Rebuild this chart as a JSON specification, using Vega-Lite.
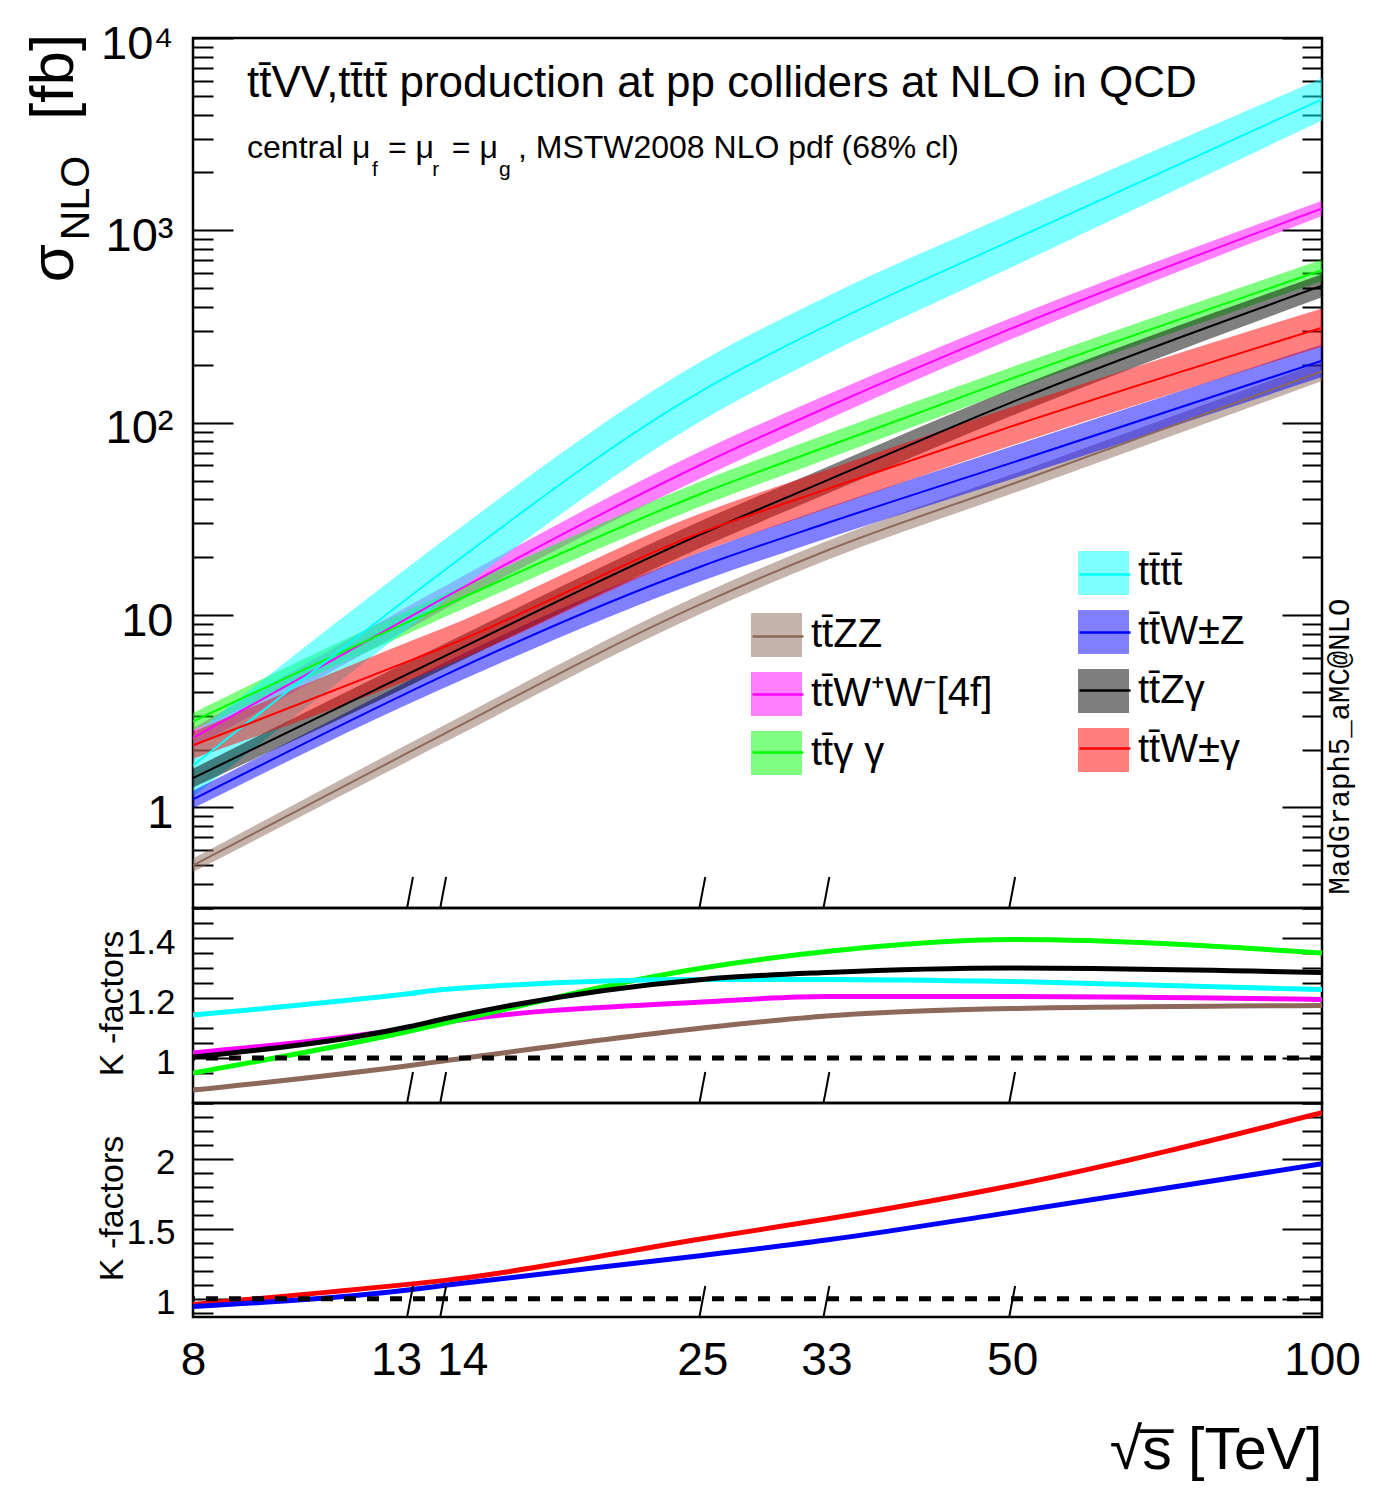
{
  "$schema": "https://vega.github.io/schema/vega-lite/v6.json",
  "background": "white",
  "autosize": {"type": "none"},
  "padding": {"left": 193, "top": 38, "right": 1188, "bottom": 1469},
  "spacing": 0,
  "bounds": "flush",
  "config": {
    "view": {"stroke": "black", "strokeWidth": 2.5},
    "axis": {"labelColor": "black", "tickColor": "black", "titleColor": "black", "grid": false, "domain": false}
  },
  "resolve": {"scale": {"fill": "independent", "stroke": "independent", "color": "independent"}},
  "datasets": {
    "xs": [
      {"p": "tt\u0304ZZ", "s": 8, "c": 0.5, "lo": 0.461, "hi": 0.542},
      {"p": "tt\u0304ZZ", "s": 13, "c": 1.95, "lo": 1.76, "hi": 2.16},
      {"p": "tt\u0304ZZ", "s": 14, "c": 2.4, "lo": 2.16, "hi": 2.66},
      {"p": "tt\u0304ZZ", "s": 25, "c": 11.5, "lo": 10.25, "hi": 12.9},
      {"p": "tt\u0304ZZ", "s": 33, "c": 21.6, "lo": 19.3, "hi": 24.2},
      {"p": "tt\u0304ZZ", "s": 50, "c": 48, "lo": 42.8, "hi": 53.9},
      {"p": "tt\u0304ZZ", "s": 100, "c": 185, "lo": 165, "hi": 207.6},
      {"p": "tt\u0304W\u207aW\u207b[4f]", "s": 8, "c": 2.3, "lo": 2.05, "hi": 2.58},
      {"p": "tt\u0304W\u207aW\u207b[4f]", "s": 13, "c": 9.8, "lo": 8.54, "hi": 11.25},
      {"p": "tt\u0304W\u207aW\u207b[4f]", "s": 14, "c": 12.2, "lo": 10.63, "hi": 14.0},
      {"p": "tt\u0304W\u207aW\u207b[4f]", "s": 25, "c": 61, "lo": 51.9, "hi": 71.7},
      {"p": "tt\u0304W\u207aW\u207b[4f]", "s": 33, "c": 120, "lo": 103.4, "hi": 139.3},
      {"p": "tt\u0304W\u207aW\u207b[4f]", "s": 50, "c": 310, "lo": 273, "hi": 352},
      {"p": "tt\u0304W\u207aW\u207b[4f]", "s": 100, "c": 1300, "lo": 1186, "hi": 1425},
      {"p": "tt\u0304\u03b3 \u03b3", "s": 8, "c": 2.8, "lo": 2.52, "hi": 3.1},
      {"p": "tt\u0304\u03b3 \u03b3", "s": 13, "c": 9.3, "lo": 8.1, "hi": 10.7},
      {"p": "tt\u0304\u03b3 \u03b3", "s": 14, "c": 11.1, "lo": 9.67, "hi": 12.74},
      {"p": "tt\u0304\u03b3 \u03b3", "s": 25, "c": 43, "lo": 37, "hi": 49.9},
      {"p": "tt\u0304\u03b3 \u03b3", "s": 33, "c": 75, "lo": 64.6, "hi": 87.1},
      {"p": "tt\u0304\u03b3 \u03b3", "s": 50, "c": 170, "lo": 148, "hi": 195},
      {"p": "tt\u0304\u03b3 \u03b3", "s": 100, "c": 620, "lo": 546, "hi": 704},
      {"p": "tt\u0304tt\u0304", "s": 8, "c": 1.65, "lo": 1.14, "hi": 2.38},
      {"p": "tt\u0304tt\u0304", "s": 13, "c": 12.5, "lo": 8.65, "hi": 18.06},
      {"p": "tt\u0304tt\u0304", "s": 14, "c": 16.9, "lo": 11.7, "hi": 24.4},
      {"p": "tt\u0304tt\u0304", "s": 25, "c": 147, "lo": 103, "hi": 210},
      {"p": "tt\u0304tt\u0304", "s": 33, "c": 320, "lo": 226.5, "hi": 452},
      {"p": "tt\u0304tt\u0304", "s": 50, "c": 890, "lo": 645, "hi": 1228},
      {"p": "tt\u0304tt\u0304", "s": 100, "c": 4800, "lo": 3727, "hi": 6182},
      {"p": "tt\u0304W\u00b1Z", "s": 8, "c": 1.1, "lo": 0.99, "hi": 1.22},
      {"p": "tt\u0304W\u00b1Z", "s": 13, "c": 4.0, "lo": 3.48, "hi": 4.59},
      {"p": "tt\u0304W\u00b1Z", "s": 14, "c": 4.83, "lo": 4.16, "hi": 5.61},
      {"p": "tt\u0304W\u00b1Z", "s": 25, "c": 18, "lo": 15.1, "hi": 21.4},
      {"p": "tt\u0304W\u00b1Z", "s": 33, "c": 30, "lo": 25, "hi": 36.1},
      {"p": "tt\u0304W\u00b1Z", "s": 50, "c": 62, "lo": 51, "hi": 75.4},
      {"p": "tt\u0304W\u00b1Z", "s": 100, "c": 210, "lo": 172.7, "hi": 255},
      {"p": "tt\u0304Z\u03b3", "s": 8, "c": 1.42, "lo": 1.27, "hi": 1.59},
      {"p": "tt\u0304Z\u03b3", "s": 13, "c": 5.0, "lo": 4.31, "hi": 5.8},
      {"p": "tt\u0304Z\u03b3", "s": 14, "c": 6.06, "lo": 5.22, "hi": 7.04},
      {"p": "tt\u0304Z\u03b3", "s": 25, "c": 26.5, "lo": 22.6, "hi": 31.1},
      {"p": "tt\u0304Z\u03b3", "s": 33, "c": 50, "lo": 42.6, "hi": 58.75},
      {"p": "tt\u0304Z\u03b3", "s": 50, "c": 128, "lo": 109, "hi": 150},
      {"p": "tt\u0304Z\u03b3", "s": 100, "c": 515, "lo": 449, "hi": 591},
      {"p": "tt\u0304W\u00b1\u03b3", "s": 8, "c": 2.1, "lo": 1.79, "hi": 2.47},
      {"p": "tt\u0304W\u00b1\u03b3", "s": 13, "c": 5.8, "lo": 4.61, "hi": 7.3},
      {"p": "tt\u0304W\u00b1\u03b3", "s": 14, "c": 6.78, "lo": 5.39, "hi": 8.54},
      {"p": "tt\u0304W\u00b1\u03b3", "s": 25, "c": 27, "lo": 21.4, "hi": 34},
      {"p": "tt\u0304W\u00b1\u03b3", "s": 33, "c": 45, "lo": 35.7, "hi": 56.7},
      {"p": "tt\u0304W\u00b1\u03b3", "s": 50, "c": 96, "lo": 76.3, "hi": 121},
      {"p": "tt\u0304W\u00b1\u03b3", "s": 100, "c": 312, "lo": 248, "hi": 393}
    ],
    "km": [
      {"p": "tt\u0304ZZ", "s": 8, "k": 0.893}, {"p": "tt\u0304ZZ", "s": 13, "k": 0.975}, {"p": "tt\u0304ZZ", "s": 14, "k": 0.99}, {"p": "tt\u0304ZZ", "s": 25, "k": 1.10}, {"p": "tt\u0304ZZ", "s": 33, "k": 1.14}, {"p": "tt\u0304ZZ", "s": 50, "k": 1.165}, {"p": "tt\u0304ZZ", "s": 100, "k": 1.175},
      {"p": "tt\u0304W\u207aW\u207b[4f]", "s": 8, "k": 1.017}, {"p": "tt\u0304W\u207aW\u207b[4f]", "s": 13, "k": 1.10}, {"p": "tt\u0304W\u207aW\u207b[4f]", "s": 14, "k": 1.118}, {"p": "tt\u0304W\u207aW\u207b[4f]", "s": 25, "k": 1.187}, {"p": "tt\u0304W\u207aW\u207b[4f]", "s": 33, "k": 1.205}, {"p": "tt\u0304W\u207aW\u207b[4f]", "s": 50, "k": 1.205}, {"p": "tt\u0304W\u207aW\u207b[4f]", "s": 100, "k": 1.195},
      {"p": "tt\u0304\u03b3 \u03b3", "s": 8, "k": 0.95}, {"p": "tt\u0304\u03b3 \u03b3", "s": 13, "k": 1.09}, {"p": "tt\u0304\u03b3 \u03b3", "s": 14, "k": 1.115}, {"p": "tt\u0304\u03b3 \u03b3", "s": 25, "k": 1.30}, {"p": "tt\u0304\u03b3 \u03b3", "s": 33, "k": 1.355}, {"p": "tt\u0304\u03b3 \u03b3", "s": 50, "k": 1.395}, {"p": "tt\u0304\u03b3 \u03b3", "s": 100, "k": 1.35},
      {"p": "tt\u0304tt\u0304", "s": 8, "k": 1.143}, {"p": "tt\u0304tt\u0304", "s": 13, "k": 1.215}, {"p": "tt\u0304tt\u0304", "s": 14, "k": 1.228}, {"p": "tt\u0304tt\u0304", "s": 25, "k": 1.262}, {"p": "tt\u0304tt\u0304", "s": 33, "k": 1.262}, {"p": "tt\u0304tt\u0304", "s": 50, "k": 1.255}, {"p": "tt\u0304tt\u0304", "s": 100, "k": 1.228},
      {"p": "tt\u0304Z\u03b3", "s": 8, "k": 1.003}, {"p": "tt\u0304Z\u03b3", "s": 13, "k": 1.105}, {"p": "tt\u0304Z\u03b3", "s": 14, "k": 1.13}, {"p": "tt\u0304Z\u03b3", "s": 25, "k": 1.262}, {"p": "tt\u0304Z\u03b3", "s": 33, "k": 1.285}, {"p": "tt\u0304Z\u03b3", "s": 50, "k": 1.30}, {"p": "tt\u0304Z\u03b3", "s": 100, "k": 1.285}
    ],
    "kb": [
      {"p": "tt\u0304W\u00b1\u03b3", "s": 8, "k": 0.96}, {"p": "tt\u0304W\u00b1\u03b3", "s": 13, "k": 1.105}, {"p": "tt\u0304W\u00b1\u03b3", "s": 14, "k": 1.13}, {"p": "tt\u0304W\u00b1\u03b3", "s": 25, "k": 1.43}, {"p": "tt\u0304W\u00b1\u03b3", "s": 33, "k": 1.57}, {"p": "tt\u0304W\u00b1\u03b3", "s": 50, "k": 1.81}, {"p": "tt\u0304W\u00b1\u03b3", "s": 100, "k": 2.33},
      {"p": "tt\u0304W\u00b1Z", "s": 8, "k": 0.945}, {"p": "tt\u0304W\u00b1Z", "s": 13, "k": 1.065}, {"p": "tt\u0304W\u00b1Z", "s": 14, "k": 1.095}, {"p": "tt\u0304W\u00b1Z", "s": 25, "k": 1.31}, {"p": "tt\u0304W\u00b1Z", "s": 33, "k": 1.42}, {"p": "tt\u0304W\u00b1Z", "s": 50, "k": 1.62}, {"p": "tt\u0304W\u00b1Z", "s": 100, "k": 1.965}
    ],
    "sl": [{"s": 13}, {"s": 14}, {"s": 25}, {"s": 33}, {"s": 50}]
  },
  "vconcat": [
    {
      "width": 1129,
      "height": 870,
      "layer": [
        {
          "data": {"name": "xs"},
          "transform": [{"filter": {"field": "p", "oneOf": ["tt\u0304ZZ", "tt\u0304W\u207aW\u207b[4f]", "tt\u0304\u03b3 \u03b3"]}}],
          "mark": {"type": "area", "fillOpacity": 0.5, "interpolate": "monotone", "clip": true},
          "encoding": {
            "x": {"field": "s", "type": "quantitative", "scale": {"type": "log", "domain": [8, 100], "nice": false},
              "axis": {"orient": "top", "ticks": false, "labels": false, "domain": false, "title": "NLO", "titleAngle": -90, "titleX": -105, "titleY": 159.5, "titleAlign": "center", "titleBaseline": "alphabetic", "titleFont": "Liberation Sans", "titleFontSize": 41, "titleFontWeight": "normal"}},
            "y": {"field": "lo", "type": "quantitative", "scale": {"type": "log", "domain": [0.3, 10000], "nice": false},
              "axis": {"orient": "left",
                "values": [0.3,0.4,0.5,0.6,0.7,0.8,0.9,1,2,3,4,5,6,7,8,9,10,20,30,40,50,60,70,80,90,100,200,300,400,500,600,700,800,900,1000,2000,3000,4000,5000,6000,7000,8000,9000,10000],
                "labelExpr": "datum.value == 10000 ? '10\u2074' : datum.value == 1000 ? '10\u00b3' : datum.value == 100 ? '10\u00b2' : datum.value == 10 ? '10' : datum.value == 1 ? '1' : ''",
                "tickSize": {"condition": {"test": "datum.value == 1 || datum.value == 10 || datum.value == 100 || datum.value == 1000 || datum.value == 10000", "value": -40}, "value": -20},
                "tickWidth": 2,
                "labelFont": "Liberation Sans", "labelFontSize": 47, "labelPadding": 60, "labelOffset": 6,
                "labelOverlap": false, "labelFlush": false, "labelBound": false,
                "title": "\u03c3\u2003\u2003[fb]", "titleX": -121, "titleY": 119.5, "titleAngle": -90, "titleAlign": "center", "titleBaseline": "alphabetic",
                "titleFont": "Liberation Sans", "titleFontSize": 62, "titleFontWeight": "normal"}},
            "y2": {"field": "hi"},
            "fill": {"field": "p", "type": "nominal",
              "scale": {"domain": ["tt\u0304ZZ", "tt\u0304W\u207aW\u207b[4f]", "tt\u0304\u03b3 \u03b3"], "range": ["#8c695a", "#ff00ff", "#00ff00"]},
              "legend": {"orient": "none", "legendX": 558, "legendY": 571.5, "title": null, "direction": "vertical",
                "symbolType": "M-1,-0.863H1V0.863H-1Z", "symbolSize": 2601, "symbolStrokeWidth": 0, "symbolOpacity": 0.5,
                "labelFont": "Liberation Sans", "labelFontSize": 40, "labelColor": "black", "labelOffset": 9, "rowPadding": 11, "padding": 0, "labelLimit": 0}}
          }
        },
        {
          "data": {"name": "xs"},
          "transform": [{"filter": {"field": "p", "oneOf": ["tt\u0304tt\u0304", "tt\u0304W\u00b1Z", "tt\u0304Z\u03b3", "tt\u0304W\u00b1\u03b3"]}}],
          "mark": {"type": "area", "fillOpacity": 0.5, "interpolate": "monotone", "clip": true},
          "encoding": {
            "x": {"field": "s", "type": "quantitative", "scale": {"type": "log", "domain": [8, 100], "nice": false}},
            "y": {"field": "lo", "type": "quantitative", "scale": {"type": "log", "domain": [0.3, 10000], "nice": false}, "axis": null},
            "y2": {"field": "hi"},
            "fill": {"field": "p", "type": "nominal",
              "scale": {"domain": ["tt\u0304tt\u0304", "tt\u0304W\u00b1Z", "tt\u0304Z\u03b3", "tt\u0304W\u00b1\u03b3"], "range": ["#00ffff", "#0000ff", "#000000", "#ff0000"]},
              "legend": {"orient": "none", "legendX": 885, "legendY": 509.5, "title": null, "direction": "vertical",
                "symbolType": "M-1,-0.863H1V0.863H-1Z", "symbolSize": 2601, "symbolStrokeWidth": 0, "symbolOpacity": 0.5,
                "labelFont": "Liberation Sans", "labelFontSize": 40, "labelColor": "black", "labelOffset": 9, "rowPadding": 11, "padding": 0, "labelLimit": 0}}
          }
        },
        {
          "data": {"name": "xs"},
          "transform": [{"filter": {"field": "p", "oneOf": ["tt\u0304ZZ", "tt\u0304W\u207aW\u207b[4f]", "tt\u0304\u03b3 \u03b3"]}}],
          "mark": {"type": "line", "strokeWidth": 2, "interpolate": "monotone", "clip": true},
          "encoding": {
            "x": {"field": "s", "type": "quantitative", "scale": {"type": "log", "domain": [8, 100], "nice": false}},
            "y": {"field": "c", "type": "quantitative", "scale": {"type": "log", "domain": [0.3, 10000], "nice": false}, "axis": null},
            "stroke": {"field": "p", "type": "nominal",
              "scale": {"domain": ["tt\u0304ZZ", "tt\u0304W\u207aW\u207b[4f]", "tt\u0304\u03b3 \u03b3"], "range": ["#8c695a", "#ff00ff", "#00ff00"]},
              "legend": {"orient": "none", "legendX": 558, "legendY": 571.5, "title": null, "direction": "vertical",
                "symbolType": "M-1,0H1", "symbolSize": 2601, "symbolStrokeWidth": 2.5,
                "labelFont": "Liberation Sans", "labelFontSize": 40, "labelOpacity": 0, "labelOffset": 9, "rowPadding": 11, "padding": 0, "labelLimit": 0}}
          }
        },
        {
          "data": {"name": "xs"},
          "transform": [{"filter": {"field": "p", "oneOf": ["tt\u0304tt\u0304", "tt\u0304W\u00b1Z", "tt\u0304Z\u03b3", "tt\u0304W\u00b1\u03b3"]}}],
          "mark": {"type": "line", "strokeWidth": 2, "interpolate": "monotone", "clip": true},
          "encoding": {
            "x": {"field": "s", "type": "quantitative", "scale": {"type": "log", "domain": [8, 100], "nice": false}},
            "y": {"field": "c", "type": "quantitative", "scale": {"type": "log", "domain": [0.3, 10000], "nice": false},
              "axis": {"orient": "right",
                "values": [0.3,0.4,0.5,0.6,0.7,0.8,0.9,1,2,3,4,5,6,7,8,9,10,20,30,40,50,60,70,80,90,100,200,300,400,500,600,700,800,900,1000,2000,3000,4000,5000,6000,7000,8000,9000,10000],
                "labels": false,
                "tickSize": {"condition": {"test": "datum.value == 1 || datum.value == 10 || datum.value == 100 || datum.value == 1000 || datum.value == 10000", "value": -40}, "value": -20},
                "tickWidth": 2,
                "title": "MadGraph5_aMC@NLO", "titleX": 26, "titleY": 708, "titleAngle": -90, "titleAlign": "center", "titleBaseline": "alphabetic",
                "titleFont": "Liberation Mono", "titleFontSize": 29, "titleFontWeight": "normal"}},
            "stroke": {"field": "p", "type": "nominal",
              "scale": {"domain": ["tt\u0304tt\u0304", "tt\u0304W\u00b1Z", "tt\u0304Z\u03b3", "tt\u0304W\u00b1\u03b3"], "range": ["#00ffff", "#0000ff", "#000000", "#ff0000"]},
              "legend": {"orient": "none", "legendX": 885, "legendY": 509.5, "title": null, "direction": "vertical",
                "symbolType": "M-1,0H1", "symbolSize": 2601, "symbolStrokeWidth": 2.5,
                "labelFont": "Liberation Sans", "labelFontSize": 40, "labelOpacity": 0, "labelOffset": 9, "rowPadding": 11, "padding": 0, "labelLimit": 0}}
          }
        },
        {
          "data": {"name": "sl"},
          "mark": {"type": "point", "shape": "M-0.19,1L0.19,-1", "size": 961, "filled": false, "stroke": "black", "strokeWidth": 2, "opacity": 1, "yOffset": -15.5},
          "encoding": {
            "x": {"field": "s", "type": "quantitative", "scale": {"type": "log", "domain": [8, 100], "nice": false}},
            "y": {"value": "height"}
          }
        },
        {
          "data": {"values": [{}]},
          "mark": {"type": "text", "text": "tt\u0304VV,tt\u0304tt\u0304 production at pp colliders at NLO in QCD", "align": "left", "baseline": "alphabetic", "font": "Liberation Sans", "fontSize": 44, "color": "black"},
          "encoding": {
            "x": {"datum": 9.028, "type": "quantitative", "scale": {"type": "log", "domain": [8, 100], "nice": false}},
            "y": {"datum": 4932, "type": "quantitative", "scale": {"type": "log", "domain": [0.3, 10000], "nice": false}, "axis": null}
          }
        },
        {
          "data": {"values": [{}]},
          "mark": {"type": "text", "text": "central \u03bc", "align": "left", "baseline": "alphabetic", "font": "Liberation Sans", "fontSize": 32, "color": "black"},
          "encoding": {
            "x": {"datum": 9.028, "type": "quantitative", "scale": {"type": "log", "domain": [8, 100], "nice": false}},
            "y": {"datum": 2377, "type": "quantitative", "scale": {"type": "log", "domain": [0.3, 10000], "nice": false}, "axis": null}
          }
        },
        {
          "data": {"values": [{}]},
          "mark": {"type": "text", "text": "= \u03bc", "align": "left", "baseline": "alphabetic", "font": "Liberation Sans", "fontSize": 32, "color": "black"},
          "encoding": {
            "x": {"datum": 12.375, "type": "quantitative", "scale": {"type": "log", "domain": [8, 100], "nice": false}},
            "y": {"datum": 2377, "type": "quantitative", "scale": {"type": "log", "domain": [0.3, 10000], "nice": false}, "axis": null}
          }
        },
        {
          "data": {"values": [{}]},
          "mark": {"type": "text", "text": "= \u03bc", "align": "left", "baseline": "alphabetic", "font": "Liberation Sans", "fontSize": 32, "color": "black"},
          "encoding": {
            "x": {"datum": 14.276, "type": "quantitative", "scale": {"type": "log", "domain": [8, 100], "nice": false}},
            "y": {"datum": 2377, "type": "quantitative", "scale": {"type": "log", "domain": [0.3, 10000], "nice": false}, "axis": null}
          }
        },
        {
          "data": {"values": [{}]},
          "mark": {"type": "text", "text": ", MSTW2008 NLO pdf (68% cl)", "align": "left", "baseline": "alphabetic", "font": "Liberation Sans", "fontSize": 32, "color": "black"},
          "encoding": {
            "x": {"datum": 16.55, "type": "quantitative", "scale": {"type": "log", "domain": [8, 100], "nice": false}},
            "y": {"datum": 2377, "type": "quantitative", "scale": {"type": "log", "domain": [0.3, 10000], "nice": false}, "axis": null}
          }
        },
        {
          "data": {"values": [{"t": "f", "s": 11.94}, {"t": "r", "s": 13.66}, {"t": "g", "s": 15.86}]},
          "mark": {"type": "text", "align": "left", "baseline": "alphabetic", "font": "Liberation Sans", "fontSize": 21, "color": "black"},
          "encoding": {
            "text": {"field": "t"},
            "x": {"field": "s", "type": "quantitative", "scale": {"type": "log", "domain": [8, 100], "nice": false}},
            "y": {"datum": 1917, "type": "quantitative", "scale": {"type": "log", "domain": [0.3, 10000], "nice": false}, "axis": null}
          }
        }
      ],
      "resolve": {"scale": {"fill": "independent", "stroke": "independent"}, "axis": {"y": "independent"}}
    },
    {
      "width": 1129,
      "height": 195,
      "layer": [
        {
          "data": {"name": "km"},
          "mark": {"type": "line", "strokeWidth": 5, "interpolate": "monotone", "clip": true},
          "encoding": {
            "x": {"field": "s", "type": "quantitative", "scale": {"type": "log", "domain": [8, 100], "nice": false}, "axis": null},
            "y": {"field": "k", "type": "quantitative", "scale": {"domain": [0.85, 1.5], "nice": false, "zero": false},
              "axis": {"orient": "left",
                "values": [0.85,0.9,0.95,1,1.05,1.1,1.15,1.2,1.25,1.3,1.35,1.4,1.45,1.5],
                "labelExpr": "datum.value == 1.4 ? '1.4' : datum.value == 1.2 ? '1.2' : datum.value == 1 ? '1' : ''",
                "tickSize": {"condition": {"test": "datum.value == 1 || datum.value == 1.2 || datum.value == 1.4", "value": -40}, "value": -20},
                "tickWidth": 2,
                "labelFont": "Liberation Sans", "labelFontSize": 35, "labelPadding": 58, "labelOffset": 4,
                "labelOverlap": false, "labelFlush": false, "labelBound": false,
                "title": "K -factors", "titleX": -71, "titleY": 95, "titleAngle": -90, "titleAlign": "center", "titleBaseline": "alphabetic",
                "titleFont": "Liberation Sans", "titleFontSize": 34, "titleFontWeight": "normal"}},
            "color": {"field": "p", "type": "nominal",
              "scale": {"domain": ["tt\u0304ZZ", "tt\u0304W\u207aW\u207b[4f]", "tt\u0304\u03b3 \u03b3", "tt\u0304tt\u0304", "tt\u0304Z\u03b3"], "range": ["#8c695a", "#ff00ff", "#00ff00", "#00ffff", "#000000"]},
              "legend": null}
          }
        },
        {
          "data": {"values": [{}]},
          "mark": {"type": "rule", "strokeDash": [12, 11], "strokeWidth": 5, "color": "black"},
          "encoding": {
            "y": {"datum": 1, "type": "quantitative", "scale": {"domain": [0.85, 1.5], "nice": false, "zero": false},
              "axis": {"orient": "right",
                "values": [0.85,0.9,0.95,1,1.05,1.1,1.15,1.2,1.25,1.3,1.35,1.4,1.45,1.5],
                "labels": false,
                "tickSize": {"condition": {"test": "datum.value == 1 || datum.value == 1.2 || datum.value == 1.4", "value": -40}, "value": -20},
                "tickWidth": 2, "title": null}}
          }
        },
        {
          "data": {"name": "sl"},
          "mark": {"type": "point", "shape": "M-0.19,1L0.19,-1", "size": 961, "filled": false, "stroke": "black", "strokeWidth": 2, "opacity": 1, "yOffset": -15.5},
          "encoding": {
            "x": {"field": "s", "type": "quantitative", "scale": {"type": "log", "domain": [8, 100], "nice": false}, "axis": null},
            "y": {"value": "height"}
          }
        }
      ],
      "resolve": {"axis": {"y": "independent"}}
    },
    {
      "width": 1129,
      "height": 214,
      "layer": [
        {
          "data": {"name": "kb"},
          "mark": {"type": "line", "strokeWidth": 5, "interpolate": "monotone", "clip": true},
          "encoding": {
            "x": {"field": "s", "type": "quantitative", "scale": {"type": "log", "domain": [8, 100], "nice": false},
              "axis": {"orient": "bottom", "values": [8, 13, 14, 25, 33, 50, 100], "ticks": false, "domain": false,
                "labelExpr": "'' + datum.value",
                "labelFont": "Liberation Sans", "labelFontSize": 46, "labelPadding": 21,
                "labelOffset": {"condition": [{"test": "datum.value == 13", "value": -14}, {"test": "datum.value == 14", "value": 19}], "value": 0},
                "labelFlush": false, "labelOverlap": false, "labelBound": false,
                "title": "\u221as\u0305 [TeV]", "titleX": 1129, "titleY": 151, "titleAlign": "right", "titleBaseline": "alphabetic", "titleAngle": 0,
                "titleFont": "Liberation Sans", "titleFontSize": 59, "titleFontWeight": "normal"}},
            "y": {"field": "k", "type": "quantitative", "scale": {"domain": [0.87, 2.4], "nice": false, "zero": false},
              "axis": {"orient": "left",
                "values": [0.9,1,1.1,1.2,1.3,1.4,1.5,1.6,1.7,1.8,1.9,2,2.1,2.2,2.3,2.4],
                "labelExpr": "datum.value == 2 ? '2' : datum.value == 1.5 ? '1.5' : datum.value == 1 ? '1' : ''",
                "tickSize": {"condition": {"test": "datum.value == 1 || datum.value == 1.5 || datum.value == 2", "value": -40}, "value": -20},
                "tickWidth": 2,
                "labelFont": "Liberation Sans", "labelFontSize": 35, "labelPadding": 58, "labelOffset": 4,
                "labelOverlap": false, "labelFlush": false, "labelBound": false,
                "title": "K -factors", "titleX": -71, "titleY": 105, "titleAngle": -90, "titleAlign": "center", "titleBaseline": "alphabetic",
                "titleFont": "Liberation Sans", "titleFontSize": 34, "titleFontWeight": "normal"}},
            "color": {"field": "p", "type": "nominal",
              "scale": {"domain": ["tt\u0304W\u00b1\u03b3", "tt\u0304W\u00b1Z"], "range": ["#ff0000", "#0000ff"]},
              "legend": null}
          }
        },
        {
          "data": {"values": [{}]},
          "mark": {"type": "rule", "strokeDash": [12, 11], "strokeWidth": 5, "color": "black"},
          "encoding": {
            "y": {"datum": 1, "type": "quantitative", "scale": {"domain": [0.87, 2.4], "nice": false, "zero": false},
              "axis": {"orient": "right",
                "values": [0.9,1,1.1,1.2,1.3,1.4,1.5,1.6,1.7,1.8,1.9,2,2.1,2.2,2.3,2.4],
                "labels": false,
                "tickSize": {"condition": {"test": "datum.value == 1 || datum.value == 1.5 || datum.value == 2", "value": -40}, "value": -20},
                "tickWidth": 2, "title": null}}
          }
        },
        {
          "data": {"name": "sl"},
          "mark": {"type": "point", "shape": "M-0.19,1L0.19,-1", "size": 961, "filled": false, "stroke": "black", "strokeWidth": 2, "opacity": 1, "yOffset": -15.5},
          "encoding": {
            "x": {"field": "s", "type": "quantitative", "scale": {"type": "log", "domain": [8, 100], "nice": false}},
            "y": {"value": "height"}
          }
        }
      ],
      "resolve": {"axis": {"y": "independent"}}
    }
  ]
}
